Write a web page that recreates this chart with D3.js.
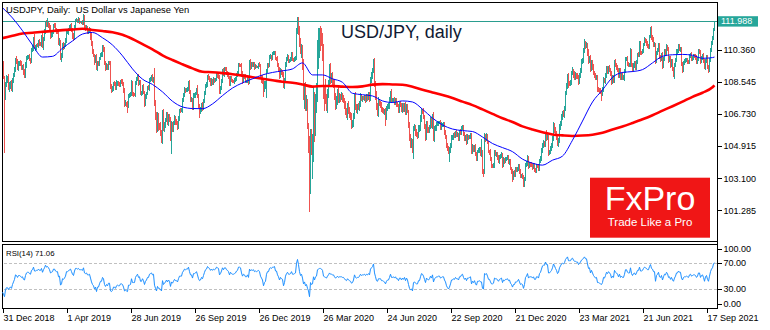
<!DOCTYPE html>
<html>
<head>
<meta charset="utf-8">
<script src="https://cdn.jsdelivr.net/npm/d3@7"></script>
<style>
  html, body { margin: 0; padding: 0; background: #ffffff; }
  svg { display: block; }
  text { font-family: "Liberation Sans", Arial, sans-serif; }
</style>
</head>
<body>
<svg id="chart" width="770" height="330"></svg>
<script>
// USD/JPY daily bars, 31 Dec 2018 – 29 Sep 2021 (one row per month)
const firstOpen = 110.30;
const closes = [
  109.69,
  108.88, 107.68, 108.48, 108.72, 108.74, 108.17, 108.40, 108.48, 108.17, 108.67, 108.95, 109.24, 109.77, 109.66, 109.36, 109.60, 109.64, 109.54, 109.35, 109.38, 109.01, 108.87,
  109.49, 109.89, 109.94, 109.97, 109.80, 109.73, 110.38, 110.47, 110.99, 110.48, 110.49, 110.61, 110.60, 110.85, 110.70, 110.68, 111.05, 110.57, 111.00, 111.38,
  111.91, 111.76, 111.88, 111.76, 111.59, 111.17, 111.22, 111.36, 111.71, 111.70, 111.48, 111.42, 111.39, 110.71, 110.82, 109.92, 110.05, 110.62, 110.53, 110.63, 110.85,
  111.35, 111.36, 111.49, 111.65, 111.73, 111.47, 111.13, 110.99, 111.63, 112.00, 112.03, 111.98, 112.05, 111.92, 111.91, 111.93, 111.87, 112.20, 111.62, 111.57, 111.62, 111.41,
  111.43, 111.50, 111.10, 110.70, 110.26, 110.05, 109.74, 109.95, 109.30, 109.60, 109.58, 109.87, 110.07, 110.08, 110.51, 110.35, 109.60, 109.30, 109.48, 109.35, 109.61, 109.60, 108.30,
  108.12, 108.17, 108.45, 108.40, 108.20, 108.45, 108.50, 108.42, 108.38, 108.57, 108.55, 108.45, 108.08, 107.30, 107.33, 107.30, 107.18, 107.78, 107.80, 107.85,
  108.45, 107.86, 107.85, 107.82, 108.46, 108.72, 108.88, 108.45, 108.52, 107.92, 107.92, 108.25, 107.95, 107.32, 107.72, 107.88, 108.20, 108.18, 108.66, 108.70, 108.83, 108.62, 108.73,
  107.32, 106.58, 105.95, 106.48, 106.07, 106.05, 105.66, 105.30, 106.72, 105.92, 106.10, 106.38, 106.62, 106.24, 106.60, 106.40, 105.38, 106.12, 105.84, 106.18, 106.50, 106.27,
  106.24, 105.97, 106.45, 106.93, 106.92, 106.92, 107.53, 107.80, 108.10, 108.08, 108.10, 108.15, 108.45, 107.95, 107.55, 107.55, 107.08, 107.76, 107.78, 107.90, 108.08,
  107.72, 107.20, 106.90, 106.95, 107.25, 107.08, 107.48, 107.92, 108.30, 108.40, 108.86, 108.75, 108.65, 108.44, 108.62, 108.48, 108.70, 108.60, 108.67, 108.95, 108.88, 108.80, 108.03,
  108.20, 108.60, 109.18, 108.97, 109.28, 109.26, 109.05, 109.00, 108.80, 108.44, 108.78, 108.62, 108.58, 108.57, 108.64, 108.68, 108.94, 109.06, 109.52, 109.50, 109.48,
  109.00, 108.62, 108.87, 108.79, 108.58, 108.58, 108.75, 108.53, 109.62, 109.36, 109.55, 109.48, 109.58, 109.35, 109.45, 109.38, 109.40, 109.55, 109.44, 108.86, 108.65,
  108.55, 108.10, 108.37, 108.45, 109.12, 109.52, 109.48, 109.94, 109.98, 109.90, 110.14, 110.15, 110.18, 109.87, 109.84, 109.48, 109.27, 108.90, 109.18, 109.02, 108.97, 108.36,
  108.66, 109.50, 109.82, 109.97, 109.75, 109.76, 109.82, 110.09, 109.82, 109.77, 109.86, 109.90, 111.40, 112.10, 111.60, 110.77, 110.22, 110.43, 109.56, 107.89,
  108.35, 107.10, 107.53, 106.09, 105.33, 102.35, 105.55, 104.60, 104.68, 107.91, 105.85, 107.66, 107.88, 110.70, 110.82, 111.21, 111.20, 111.18, 110.58, 107.93, 107.83, 107.54,
  107.18, 107.88, 108.47, 109.20, 108.75, 108.80, 108.49, 108.45, 107.73, 107.23, 107.48, 107.93, 107.53, 107.71, 107.67, 107.79, 107.63, 107.50, 107.23, 106.85, 106.63, 107.15,
  106.90, 106.72, 106.56, 106.09, 106.19, 106.62, 107.66, 107.10, 107.00, 107.14, 107.09, 107.30, 107.72, 107.57, 107.62, 107.60, 107.71, 107.50, 107.73, 107.64, 107.81,
  107.62, 108.68, 108.90, 109.17, 109.60, 108.44, 107.84, 107.08, 106.88, 107.38, 107.32, 107.31, 106.99, 106.96, 106.87, 106.90, 106.52, 107.00, 107.17, 107.20, 107.56, 107.92,
  107.47, 107.50, 107.52, 107.38, 107.53, 107.25, 107.20, 106.92, 107.31, 107.23, 106.94, 107.25, 106.97, 107.26, 106.81, 107.18, 106.86, 106.11, 105.38, 105.03, 105.12, 104.72, 105.90,
  105.95, 105.70, 105.56, 105.52, 105.93, 105.93, 106.49, 106.92, 106.90, 106.58, 106.02, 105.39, 106.13, 105.83, 105.80, 105.99, 106.42, 106.09, 106.58, 105.38, 105.90,
  105.94, 106.17, 106.18, 106.24, 106.26, 105.96, 106.10, 106.14, 106.16, 105.70, 105.44, 104.95, 104.76, 104.57, 104.66, 104.93, 105.40, 105.40, 105.58, 105.48, 105.69, 105.54,
  105.54, 105.33, 105.72, 105.69, 105.95, 105.98, 105.59, 105.33, 105.47, 105.11, 105.43, 105.40, 105.44, 105.52, 104.57, 104.89, 104.71, 104.86, 104.44, 104.20, 104.61, 104.65,
  104.74, 104.50, 104.53, 103.50, 103.38, 105.40, 105.30, 105.43, 105.11, 104.62, 104.58, 104.20, 103.82, 103.80, 103.86, 104.57, 104.45, 104.47, 104.25, 104.08, 104.30,
  104.35, 104.44, 103.85, 104.17, 104.05, 104.18, 104.21, 104.27, 104.01, 104.07, 103.64, 103.48, 103.12, 103.34, 103.31, 103.61, 103.56, 103.63, 103.80, 103.50, 103.23, 103.24,
  103.16, 102.69, 103.05, 103.82, 103.94, 104.25, 103.75, 103.90, 103.86, 103.85, 103.70, 103.85, 103.55, 103.50, 103.78, 103.76, 103.63, 104.08, 104.25, 104.69,
  104.95, 105.05, 105.04, 105.55, 105.40, 105.42, 104.57, 104.59, 104.76, 104.95, 105.35, 106.05, 105.85, 105.68, 105.45, 105.07, 105.25, 105.95, 106.18, 106.57,
  106.77, 106.70, 107.03, 107.95, 108.33, 108.89, 108.50, 108.49, 108.51, 109.04, 109.13, 108.98, 108.83, 108.93, 108.88, 108.83, 108.58, 108.88, 109.20, 109.68, 109.78, 110.31, 110.72,
  110.60, 110.62, 110.19, 109.73, 109.84, 109.26, 109.66, 109.38, 109.06, 108.93, 108.76, 108.79, 108.15, 108.11, 108.07, 107.96, 107.89, 108.12, 108.67, 108.60, 108.90, 109.31,
  109.13, 109.33, 109.21, 109.05, 108.57, 108.79, 108.63, 109.68, 109.48, 109.36, 109.20, 108.91, 109.22, 108.76, 108.96, 108.76, 108.76, 109.15, 109.83, 109.84, 109.57,
  109.48, 109.49, 110.29, 109.53, 109.24, 109.47, 109.63, 109.32, 109.66, 110.06, 110.05, 110.71, 110.22, 110.20, 110.31, 110.65, 110.93, 110.86, 110.75, 110.59, 110.53, 111.10,
  111.54, 111.05, 110.96, 110.62, 110.65, 109.74, 110.15, 110.36, 110.62, 109.97, 109.81, 110.07, 109.46, 109.85, 110.29, 110.14, 110.55, 110.39, 109.79, 109.90, 109.47, 109.70,
  109.29, 109.05, 109.49, 109.77, 110.25, 110.29, 110.58, 110.41, 110.41, 109.59, 109.24, 109.60, 109.75, 109.76, 109.80, 109.70, 109.67, 110.01, 110.09, 109.83, 109.92, 110.02,
  110.01, 109.93, 109.69, 109.85, 110.27, 110.25, 109.71, 109.91, 110.04, 109.71, 109.38, 109.73, 109.94, 109.40, 109.22, 109.78, 110.35, 110.73, 110.99, 111.50, 111.988
];

// Shadow above the body and below the body, in hundredths of a yen
const upperWick = [
  5,
  3, 2, 7, 22, 15, 25, 12, 10, 20, 8, 12, 15, 10, 22, 18, 12, 10, 15, 20, 12, 20, 25,
  18, 10, 12, 8, 15, 12, 8, 15, 10, 25, 12, 10, 15, 8, 12, 10, 12, 25, 10, 15,
  8, 15, 26, 10, 12, 15, 18, 10, 12, 15, 20, 10, 12, 15, 20, 12, 15, 10, 18, 12, 20,
  12, 15, 10, 12, 8, 15, 10, 18, 12, 10, 12, 8, 15, 10, 5, 8, 12, 20, 10, 15, 12, 10,
  12, 15, 10, 20, 15, 12, 10, 12, 18, 12, 15, 10, 12, 15, 10, 12, 15, 10, 12, 10, 12, 10, 15,
  15, 12, 10, 15, 12, 18, 10, 12, 10, 8, 12, 15, 10, 12, 18, 10, 15, 10, 12, 10,
  20, 15, 12, 8, 15, 12, 10, 11, 12, 15, 12, 10, 15, 10, 12, 10, 12, 15, 10, 12, 10, 15, 12,
  59, 20, 25, 35, 30, 15, 20, 15, 25, 30, 20, 15, 25, 20, 15, 12, 15, 20, 15, 18, 15, 12,
  15, 12, 15, 10, 12, 15, 10, 12, 15, 12, 10, 12, 15, 20, 15, 12, 10, 15, 12, 10, 12,
  30, 15, 12, 15, 10, 15, 12, 10, 15, 12, 10, 12, 15, 10, 12, 10, 12, 8, 10, 12, 10, 15, 12,
  12, 10, 12, 15, 10, 12, 15, 10, 12, 10, 8, 12, 10, 8, 10, 12, 8, 10, 12, 10, 8,
  12, 15, 10, 12, 20, 10, 12, 10, 15, 20, 10, 12, 8, 10, 8, 5, 5, 8, 10, 12, 10,
  30, 15, 20, 15, 15, 12, 10, 12, 15, 10, 12, 14, 10, 12, 8, 15, 12, 10, 15, 12, 20, 15,
  12, 15, 12, 15, 12, 10, 12, 15, 12, 10, 10, 12, 20, 13, 12, 10, 23, 27, 22, 30,
  15, 20, 27, 7, 11, 17, 35, 35, 92, 39, 9, 19, 62, 20, 78, 39, 50, 40, 12, 12, 37, 87,
  30, 25, 20, 35, 40, 25, 30, 20, 25, 20, 25, 20, 30, 20, 15, 20, 15, 20, 15, 25, 20, 20,
  30, 20, 15, 25, 20, 15, 20, 30, 20, 15, 20, 15, 20, 15, 12, 15, 10, 12, 15, 12, 15,
  15, 15, 20, 15, 25, 30, 15, 20, 25, 30, 20, 15, 12, 15, 10, 12, 15, 20, 15, 15, 12, 10,
  25, 15, 12, 15, 12, 10, 15, 12, 12, 15, 10, 12, 10, 12, 15, 10, 12, 10, 15, 20, 25, 20, 15,
  20, 15, 20, 15, 20, 15, 20, 15, 12, 15, 12, 15, 20, 20, 15, 12, 15, 12, 15, 25, 15,
  15, 12, 15, 12, 10, 12, 15, 10, 12, 10, 15, 10, 12, 15, 20, 15, 12, 15, 10, 12, 10, 15,
  15, 12, 10, 15, 12, 10, 12, 15, 10, 12, 15, 12, 10, 12, 15, 12, 10, 12, 15, 12, 10, 15,
  12, 15, 80, 15, 10, 25, 20, 25, 15, 12, 10, 15, 12, 10, 12, 12, 15, 10, 12, 15, 12,
  12, 15, 10, 12, 10, 12, 10, 12, 15, 10, 12, 10, 12, 15, 20, 12, 10, 12, 10, 12, 10, 12,
  15, 12, 10, 12, 15, 15, 12, 10, 12, 15, 10, 12, 10, 12, 10, 12, 15, 10, 12, 10,
  15, 20, 15, 15, 25, 20, 15, 12, 15, 12, 15, 20, 15, 12, 10, 15, 12, 20, 15, 15,
  15, 20, 15, 10, 15, 10, 15, 12, 15, 10, 23, 15, 20, 15, 12, 15, 12, 15, 12, 15, 10, 15, 25,
  15, 20, 15, 20, 15, 20, 15, 12, 15, 12, 10, 12, 15, 12, 10, 12, 10, 15, 15, 12, 15, 12,
  15, 12, 15, 12, 10, 15, 12, 10, 15, 12, 15, 12, 10, 12, 10, 12, 15, 10, 12, 10, 15,
  12, 10, 15, 12, 10, 12, 10, 12, 10, 12, 15, 15, 12, 10, 12, 10, 15, 12, 10, 12, 10, 12,
  12, 15, 12, 10, 15, 12, 15, 10, 12, 15, 10, 12, 15, 10, 12, 10, 12, 10, 15, 12, 10, 12,
  12, 10, 12, 10, 15, 12, 10, 12, 10, 12, 10, 12, 10, 12, 10, 12, 10, 12, 10, 12, 10, 12,
  12, 10, 12, 10, 12, 15, 10, 12, 10, 15, 12, 10, 12, 10, 12, 10, 12, 10, 15, 10, 2
];
const lowerWick = [
  13,
  18, 313, 18, 20, 25, 10, 22, 25, 15, 20, 18, 12, 15, 10, 12, 20, 15, 10, 12, 15, 8, 12,
  12, 15, 10, 12, 8, 15, 10, 12, 15, 8, 18, 12, 10, 15, 10, 12, 15, 8, 20, 12,
  15, 12, 10, 18, 15, 20, 12, 15, 10, 12, 10, 15, 12, 10, 15, 12, 25, 15, 20, 12, 10,
  10, 12, 15, 8, 12, 10, 15, 12, 10, 12, 8, 10, 12, 8, 5, 10, 12, 8, 15, 12, 10, 15,
  15, 12, 18, 12, 15, 12, 25, 15, 10, 15, 12, 15, 10, 12, 15, 10, 12, 15, 10, 12, 15, 10, 18,
  20, 12, 15, 10, 12, 10, 15, 10, 12, 15, 10, 12, 15, 20, 12, 15, 40, 10, 15, 12,
  10, 12, 15, 10, 12, 10, 15, 12, 10, 12, 15, 12, 10, 20, 15, 12, 10, 12, 15, 10, 12, 10, 15,
  15, 20, 30, 25, 30, 20, 15, 20, 25, 15, 20, 15, 12, 15, 20, 12, 15, 93, 15, 12, 10, 15,
  12, 15, 10, 12, 15, 10, 12, 10, 12, 15, 12, 10, 12, 10, 15, 12, 15, 10, 12, 15, 10,
  10, 15, 42, 15, 12, 20, 15, 12, 10, 12, 15, 10, 12, 10, 15, 12, 10, 12, 8, 10, 12, 10, 15,
  15, 10, 12, 10, 15, 10, 12, 15, 10, 15, 12, 10, 8, 10, 12, 8, 10, 12, 8, 10, 12,
  15, 20, 12, 10, 12, 10, 12, 15, 10, 12, 10, 8, 10, 12, 8, 5, 5, 10, 8, 10, 15,
  15, 40, 15, 20, 80, 10, 15, 12, 10, 15, 12, 10, 8, 10, 12, 10, 15, 20, 12, 10, 12, 15,
  20, 12, 10, 12, 15, 12, 10, 12, 10, 12, 10, 12, 10, 15, 40, 27, 12, 32, 36, 39,
  89, 20, 20, 19, 83, 117, 15, 20, 152, 68, 70, 35, 86, 48, 140, 92, 90, 58, 88, 33, 93, 24,
  30, 40, 25, 20, 30, 25, 20, 25, 20, 25, 20, 25, 15, 20, 25, 15, 20, 15, 20, 15, 15, 25,
  15, 20, 15, 20, 15, 20, 15, 12, 20, 25, 15, 20, 15, 12, 15, 10, 15, 12, 10, 15, 12,
  20, 15, 20, 20, 15, 20, 30, 15, 25, 30, 15, 25, 15, 20, 15, 20, 45, 15, 12, 15, 20, 15,
  10, 12, 10, 15, 12, 15, 10, 12, 15, 10, 12, 15, 12, 10, 15, 12, 10, 15, 20, 25, 20, 20, 53,
  15, 20, 15, 20, 15, 20, 15, 20, 15, 12, 15, 20, 15, 15, 12, 15, 12, 15, 20, 15, 25,
  12, 15, 10, 12, 10, 15, 12, 10, 12, 15, 10, 12, 15, 10, 57, 12, 10, 15, 12, 10, 12, 10,
  12, 15, 10, 12, 15, 10, 12, 10, 15, 12, 10, 12, 10, 15, 12, 10, 12, 15, 10, 15, 12, 10,
  15, 12, 20, 15, 20, 5, 15, 12, 10, 12, 15, 10, 12, 15, 10, 20, 12, 15, 10, 12, 15,
  10, 12, 15, 10, 12, 10, 12, 10, 12, 15, 10, 12, 24, 10, 15, 12, 10, 12, 10, 15, 12, 10,
  10, 9, 10, 12, 10, 15, 12, 10, 12, 10, 15, 10, 12, 10, 12, 10, 12, 10, 12, 15,
  15, 12, 20, 15, 20, 15, 20, 15, 12, 15, 12, 15, 20, 15, 20, 15, 20, 15, 12, 15,
  20, 15, 20, 12, 15, 20, 30, 15, 20, 15, 12, 20, 15, 20, 15, 12, 20, 15, 12, 15, 12, 15, 12,
  20, 15, 20, 15, 12, 15, 12, 15, 12, 15, 12, 10, 15, 12, 15, 10, 41, 12, 15, 12, 15, 12,
  12, 15, 12, 15, 20, 12, 15, 12, 10, 15, 12, 15, 12, 10, 12, 10, 12, 15, 10, 12, 10,
  10, 12, 10, 15, 12, 10, 12, 10, 12, 10, 12, 10, 15, 12, 10, 12, 10, 12, 15, 10, 12, 10,
  10, 12, 15, 12, 10, 20, 12, 10, 12, 15, 12, 10, 20, 12, 10, 12, 10, 12, 15, 10, 12, 10,
  15, 20, 33, 12, 10, 12, 10, 12, 15, 12, 20, 12, 10, 12, 10, 12, 10, 12, 10, 12, 10, 12,
  10, 12, 15, 12, 10, 12, 15, 10, 12, 10, 12, 15, 10, 12, 15, 10, 12, 10, 12, 10, 10
];

// RSI(14) per bar
const rsiValues = [
  25,
  22, 18, 29, 32, 32, 29, 32, 33, 31, 37, 41, 45, 52, 51, 48, 51, 51, 50, 48, 49, 45, 44,
  51, 55, 56, 56, 54, 53, 59, 60, 64, 58, 58, 59, 59, 61, 59, 59, 62, 56, 60, 63,
  67, 64, 65, 63, 60, 55, 56, 57, 61, 61, 58, 57, 57, 49, 50, 36, 38, 46, 45, 47, 50,
  57, 57, 58, 60, 61, 57, 53, 51, 58, 62, 62, 61, 62, 60, 60, 60, 59, 63, 55, 54, 55, 52,
  52, 53, 47, 41, 37, 35, 30, 33, 26, 33, 33, 38, 42, 42, 48, 46, 37, 34, 37, 35, 39, 39, 27,
  26, 28, 33, 33, 31, 35, 36, 35, 35, 38, 38, 37, 33, 27, 28, 27, 26, 36, 36, 37,
  46, 40, 40, 40, 48, 51, 53, 48, 49, 42, 42, 46, 43, 37, 42, 44, 48, 48, 53, 54, 55, 52, 53,
  36, 31, 27, 34, 31, 31, 29, 27, 43, 37, 39, 41, 44, 41, 44, 42, 34, 41, 39, 42, 45, 43,
  43, 41, 46, 50, 50, 50, 56, 58, 61, 60, 61, 61, 64, 57, 52, 52, 47, 54, 54, 55, 57,
  52, 46, 43, 44, 48, 46, 51, 56, 60, 61, 65, 63, 62, 59, 61, 59, 61, 60, 61, 64, 63, 62, 52,
  54, 58, 63, 60, 63, 63, 60, 59, 57, 52, 56, 54, 53, 53, 54, 55, 58, 59, 64, 64, 63,
  55, 50, 53, 52, 49, 49, 52, 48, 61, 58, 60, 59, 60, 57, 58, 57, 58, 59, 57, 50, 47,
  44, 35, 40, 42, 53, 57, 57, 62, 63, 62, 64, 64, 65, 58, 58, 52, 49, 44, 48, 46, 45, 35,
  40, 50, 54, 56, 53, 53, 54, 57, 53, 53, 54, 55, 70, 76, 68, 57, 51, 53, 47, 38,
  41, 35, 37, 31, 27, 18, 40, 37, 38, 49, 44, 49, 50, 60, 61, 62, 62, 61, 59, 50, 49, 48,
  47, 50, 52, 55, 53, 53, 52, 52, 49, 47, 48, 50, 48, 49, 49, 49, 48, 48, 46, 44, 43, 46,
  44, 43, 42, 39, 40, 44, 52, 48, 47, 48, 48, 50, 53, 51, 52, 52, 53, 51, 53, 52, 54,
  52, 61, 63, 65, 69, 55, 49, 43, 42, 46, 46, 46, 43, 43, 42, 41, 38, 42, 44, 44, 48, 53,
  48, 48, 49, 47, 49, 46, 46, 43, 47, 47, 44, 47, 45, 48, 43, 47, 44, 37, 31, 29, 30, 27, 40,
  41, 39, 38, 38, 43, 43, 49, 54, 53, 50, 45, 40, 47, 45, 44, 46, 50, 47, 52, 41, 46,
  47, 49, 49, 50, 50, 47, 48, 49, 49, 44, 41, 35, 32, 30, 33, 38, 44, 44, 46, 45, 48, 46,
  46, 44, 49, 49, 52, 53, 48, 45, 47, 43, 47, 47, 48, 49, 38, 42, 40, 43, 38, 36, 42, 42,
  43, 41, 41, 31, 30, 54, 53, 54, 50, 45, 45, 41, 38, 38, 39, 47, 46, 46, 44, 42, 45,
  46, 47, 40, 44, 43, 45, 45, 46, 43, 44, 39, 37, 33, 37, 37, 41, 41, 42, 45, 41, 37, 38,
  37, 31, 37, 48, 50, 54, 47, 49, 49, 49, 47, 49, 45, 45, 49, 49, 47, 54, 56, 61,
  66, 67, 67, 72, 68, 68, 55, 55, 57, 59, 63, 69, 66, 62, 59, 54, 56, 63, 66, 69,
  70, 69, 71, 76, 78, 80, 74, 74, 74, 77, 78, 75, 73, 73, 72, 72, 68, 70, 72, 75, 76, 78, 80,
  77, 77, 69, 62, 63, 55, 59, 55, 51, 49, 47, 48, 40, 40, 39, 38, 37, 40, 48, 47, 51, 56,
  54, 57, 55, 53, 47, 50, 48, 59, 56, 55, 53, 49, 53, 48, 50, 48, 48, 53, 60, 60, 56,
  55, 55, 63, 54, 51, 54, 55, 52, 55, 59, 59, 64, 58, 58, 59, 62, 64, 63, 62, 60, 60, 65,
  68, 62, 61, 57, 57, 42, 51, 53, 56, 49, 48, 51, 44, 49, 53, 52, 56, 54, 48, 49, 45, 48,
  44, 42, 47, 50, 55, 55, 58, 56, 56, 47, 44, 48, 49, 49, 50, 49, 48, 52, 53, 50, 51, 52,
  52, 51, 48, 50, 55, 55, 48, 51, 52, 48, 42, 49, 51, 45, 42, 50, 57, 61, 63, 69, 71.06
];

// Moving averages, one value every 10 bars (last value on the final bar)
const maStep = 10;
const ma50 = [
  112.74, 112.16, 111.44, 110.63, 109.95, 109.99, 110.45, 110.86, 111.25, 111.34,
  111.04, 110.63, 110.02, 109.28, 108.70, 108.40, 107.98, 107.45, 107.13, 107.04,
  107.03, 107.30, 107.77, 108.20, 108.49, 108.72, 108.94, 109.08, 109.17, 109.28,
  109.62, 108.94, 108.94, 108.72, 108.52, 107.90, 107.82, 107.75, 107.47, 107.38,
  107.47, 107.41, 107.00, 106.50, 106.11, 105.88, 105.79, 105.74, 105.43, 105.06,
  104.83, 104.60, 104.18, 103.95, 103.84, 104.12, 104.35, 105.25, 106.33, 107.41,
  108.09, 108.80, 109.08, 109.13, 109.24, 109.62, 109.99, 110.08, 110.10, 110.05,
  109.88, 109.92, 109.95
];
const ma200 = [
  111.02, 111.15, 111.28, 111.32, 111.38, 111.42, 111.47, 111.51, 111.55, 111.48,
  111.42, 111.35, 111.21, 110.97, 110.68, 110.39, 110.05, 109.78, 109.54, 109.31,
  109.12, 109.09, 109.04, 108.98, 108.90, 108.81, 108.72, 108.64, 108.55, 108.50,
  108.40, 108.28, 108.31, 108.31, 108.28, 108.26, 108.29, 108.39, 108.42, 108.40,
  108.38, 108.27, 108.10, 107.95, 107.80, 107.63, 107.43, 107.23, 106.99, 106.74,
  106.49, 106.28, 106.03, 105.85, 105.70, 105.57, 105.52, 105.49, 105.51, 105.56,
  105.67, 105.85, 106.02, 106.22, 106.43, 106.66, 106.92, 107.17, 107.43, 107.70,
  107.93, 108.24, 108.35
];

const priceTicks = [112.175, 110.360, 108.545, 106.730, 104.915, 103.100, 101.285];
const rsiTicks = [100, 70, 30, 0];
const rsiLevels = [70, 30];
const dateTickBars = [0, 64, 128, 192, 256, 320, 384, 448, 512, 576, 640, 704];
const dateLabels = ["31 Dec 2018", "1 Apr 2019", "28 Jun 2019", "26 Sep 2019", "26 Dec 2019",
  "26 Mar 2020", "24 Jun 2020", "22 Sep 2020", "21 Dec 2020", "23 Mar 2021", "21 Jun 2021", "17 Sep 2021"];

const n = closes.length;
if (upperWick.length !== n || lowerWick.length !== n || rsiValues.length !== n) {
  throw new Error(`series lengths differ: closes ${n}, upper ${upperWick.length}, lower ${lowerWick.length}, rsi ${rsiValues.length}`);
}

const bars = closes.map((c, i) => {
  const o = i === 0 ? firstOpen : closes[i - 1];
  return {
    i, open: o, close: c,
    high: Math.max(o, c) + upperWick[i] / 100,
    low: Math.min(o, c) - lowerWick[i] / 100
  };
});
const lastClose = closes[n - 1];
const lastRsi = rsiValues[n - 1];

// ---- layout ----
const left = 2.5, right = 717.5;
const mainTop = 2.5, mainBottom = 241.5;
const rsiTop = 244.5, rsiBottom = 308.5;

const bull = "#26a69a", bear = "#ef5350";

const svg = d3.select("#chart");

const x = d3.scaleLinear().domain([0, n - 1]).range([2.5, 2.5 + (n - 1)]);
const y = d3.scaleLinear().domain([101.285, 110.360]).range([210.3, 49.8]);
const yR = d3.scaleLinear().domain([30, 70]).range([289, 263.3]);

const tagY = y(lastClose);
const tagTop = tagY - 4.8;

const defs = svg.append("defs");
defs.append("clipPath").attr("id", "mainClip")
  .append("rect").attr("x", left).attr("y", mainTop).attr("width", right - left).attr("height", mainBottom - mainTop);
// the price tag sits over the upper part of the price scale
defs.append("clipPath").attr("id", "scaleClip")
  .append("rect").attr("x", right - 20).attr("y", -20).attr("width", 80).attr("height", tagTop + 20);

const main = svg.append("g").attr("clip-path", "url(#mainClip)");

// candles
main.append("g").attr("shape-rendering", "crispEdges")
  .selectAll("line").data(bars).join("line")
  .attr("x1", d => x(d.i)).attr("x2", d => x(d.i))
  .attr("y1", d => y(d.high)).attr("y2", d => y(d.low))
  .attr("stroke", d => d.close >= d.open ? bull : bear)
  .attr("stroke-width", 1);

// current price line
main.append("line")
  .attr("x1", left).attr("x2", right)
  .attr("y1", Math.round(tagY) + 0.5).attr("y2", Math.round(tagY) + 0.5)
  .attr("stroke", "#2a9d8f").attr("stroke-width", 1);

// moving averages
const maPoints = arr => arr.map((v, k) => ({ i: Math.min(k * maStep, n - 1), v }));
const maLine = d3.line().x(d => x(d.i)).y(d => y(d.v)).curve(d3.curveMonotoneX);
main.append("path").datum(maPoints(ma200)).attr("d", maLine)
  .attr("fill", "none").attr("stroke", "#ff0000").attr("stroke-width", 2.6);
main.append("path").datum(maPoints(ma50)).attr("d", maLine)
  .attr("fill", "none").attr("stroke", "#0000ff").attr("stroke-width", 1);

// titles
svg.append("text").attr("x", 6).attr("y", 12.7)
  .attr("font-size", 9.4).attr("fill", "#000")
  .attr("xml:space", "preserve")
  .text("USDJPY, Daily:  US Dollar vs Japanese Yen");

svg.append("text").attr("x", 341).attr("y", 38)
  .attr("font-family", "Roboto, 'Liberation Sans', sans-serif")
  .attr("font-size", 18).attr("fill", "#111a33")
  .text("USD/JPY, daily");

// FxPro badge
const badge = svg.append("g");
badge.append("rect").attr("x", 590).attr("y", 177.7).attr("width", 120).attr("height", 60).attr("fill", "#f01616");
badge.append("text").attr("x", 650).attr("y", 210).attr("text-anchor", "middle")
  .attr("font-family", "'Liberation Serif', 'DejaVu Serif', serif").attr("font-size", 34)
  .attr("fill", "#ffffff").text("FxPro");
badge.append("text").attr("x", 650).attr("y", 226).attr("text-anchor", "middle")
  .attr("font-size", 11.5).attr("fill", "#ffffff").text("Trade Like a Pro");

// frames
svg.append("rect").attr("x", left).attr("y", mainTop).attr("width", right - left).attr("height", mainBottom - mainTop)
  .attr("fill", "none").attr("stroke", "#000").attr("shape-rendering", "crispEdges");
svg.append("rect").attr("x", left).attr("y", rsiTop).attr("width", right - left).attr("height", rsiBottom - rsiTop)
  .attr("fill", "none").attr("stroke", "#000").attr("shape-rendering", "crispEdges");
svg.append("line").attr("x1", right).attr("x2", right).attr("y1", mainTop).attr("y2", rsiBottom)
  .attr("stroke", "#000").attr("shape-rendering", "crispEdges");

// price axis
const priceAxis = svg.append("g").attr("transform", `translate(${right},0)`)
  .call(d3.axisRight(y).tickValues(priceTicks).tickFormat(d3.format(".3f")).tickSize(4).tickPadding(2));
priceAxis.select(".domain").remove();
priceAxis.selectAll("line").attr("stroke", "#000").attr("shape-rendering", "crispEdges");
priceAxis.selectAll("text").attr("font-size", 9).attr("fill", "#000")
  .attr("font-family", "'Liberation Sans', Arial, sans-serif");
// labels that run under the price tag only show their uncovered part
priceAxis.selectAll(".tick")
  .filter(d => y(d) + 4 > tagTop && y(d) - 4 < tagTop + 10.4)
  .select("text").attr("clip-path", "url(#scaleClip)");

// last price tag
svg.append("rect").attr("x", 718).attr("y", tagTop).attr("width", 40).attr("height", 10.4).attr("fill", bull);
svg.append("text").attr("x", 721).attr("y", tagY + 3.3)
  .attr("font-size", 9).attr("fill", "#ffffff").text(d3.format(".3f")(lastClose));

// RSI panel
const rsiG = svg.append("g");
rsiG.selectAll("line.level").data(rsiLevels).join("line").attr("class", "level")
  .attr("x1", left + 1).attr("x2", right - 1)
  .attr("y1", d => Math.round(yR(d)) + 0.5).attr("y2", d => Math.round(yR(d)) + 0.5)
  .attr("stroke", "#c0c0c0").attr("stroke-dasharray", "3,2").attr("shape-rendering", "crispEdges");
rsiG.append("path").datum(rsiValues)
  .attr("d", d3.line().x((d, i) => x(i)).y(d => yR(d)))
  .attr("fill", "none").attr("stroke", "#1e90ff").attr("stroke-width", 1);
rsiG.append("text").attr("x", 6).attr("y", 256.3).attr("font-size", 7.8).attr("fill", "#000")
  .text(`RSI(14) ${d3.format(".2f")(lastRsi)}`);

const rsiLabelY = v => Math.min(Math.max(yR(v), 249), 304);
const rsiAxis = svg.append("g").attr("transform", `translate(${right},0)`)
  .call(d3.axisRight(yR).tickValues(rsiTicks).tickFormat(d3.format(".2f")).tickSize(4).tickPadding(2));
rsiAxis.select(".domain").remove();
rsiAxis.selectAll(".tick").attr("transform", d => `translate(0,${rsiLabelY(d)})`);
rsiAxis.selectAll("line").attr("stroke", "#000").attr("shape-rendering", "crispEdges");
rsiAxis.selectAll("text").attr("font-size", 9).attr("fill", "#000")
  .attr("font-family", "'Liberation Sans', Arial, sans-serif");

// date axis
const dateAxis = svg.append("g").attr("transform", `translate(0,${rsiBottom})`)
  .call(d3.axisBottom(x).tickValues(dateTickBars).tickFormat((d, k) => dateLabels[k]).tickSize(4));
dateAxis.select(".domain").remove();
dateAxis.selectAll("line").attr("stroke", "#000").attr("shape-rendering", "crispEdges");
dateAxis.selectAll("text").attr("font-size", 9).attr("fill", "#000")
  .attr("font-family", "'Liberation Sans', Arial, sans-serif")
  .attr("text-anchor", "start").attr("x", 0.5).attr("y", 12.5).attr("dy", 0);
</script>
</body>
</html>
